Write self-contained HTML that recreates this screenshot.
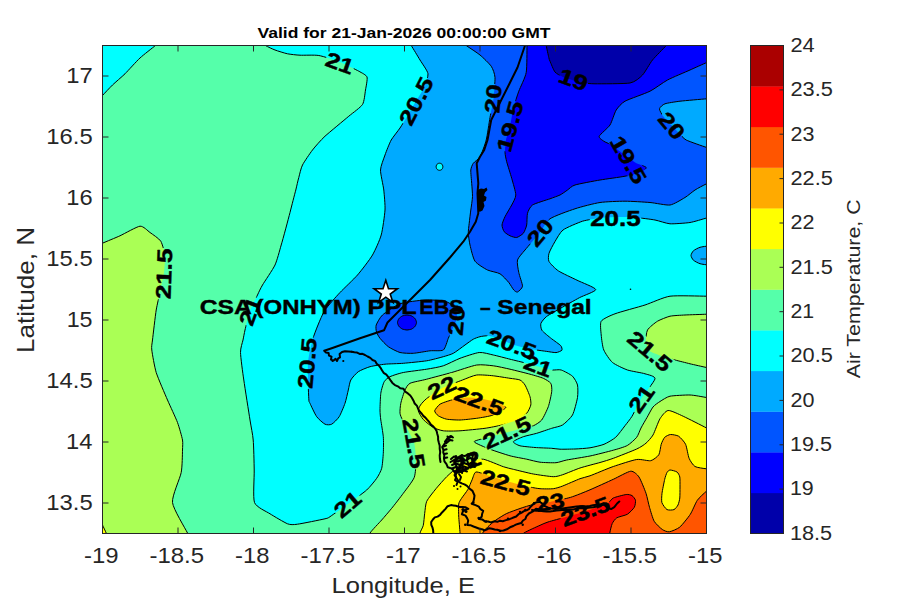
<!DOCTYPE html>
<html><head><meta charset="utf-8"><title>Air Temperature</title>
<style>html,body{margin:0;padding:0;background:#fff;}svg{display:block;}text{font-family:"Liberation Sans",sans-serif;}</style></head>
<body>
<svg width="900" height="600" viewBox="0 0 900 600">
<rect width="900" height="600" fill="#fff"/>
<defs><clipPath id="pc"><rect x="102.5" y="45.5" width="604.0" height="488.0"/></clipPath>
<mask id="lm" maskUnits="userSpaceOnUse" x="0" y="0" width="900" height="600"><rect width="900" height="600" fill="#fff"/>
<rect x="-14.8" y="-9.0" width="29.6" height="18" fill="#000" transform="translate(340,63) rotate(20)"/>
<rect x="-25.8" y="-9.0" width="51.6" height="18" fill="#000" transform="translate(416,101) rotate(-63)"/>
<rect x="-14.8" y="-9.0" width="29.6" height="18" fill="#000" transform="translate(493,98.75) rotate(-85)"/>
<rect x="-25.8" y="-9.0" width="51.6" height="18" fill="#000" transform="translate(510,126) rotate(-75)"/>
<rect x="-14.8" y="-9.0" width="29.6" height="18" fill="#000" transform="translate(573.75,79.5) rotate(20)"/>
<rect x="-14.8" y="-9.0" width="29.6" height="18" fill="#000" transform="translate(671.75,125.5) rotate(50)"/>
<rect x="-25.8" y="-9.0" width="51.6" height="18" fill="#000" transform="translate(628.75,160) rotate(60)"/>
<rect x="-25.8" y="-9.0" width="51.6" height="18" fill="#000" transform="translate(615.5,218) rotate(0)"/>
<rect x="-14.8" y="-9.0" width="29.6" height="18" fill="#000" transform="translate(540,232.5) rotate(-50)"/>
<rect x="-25.8" y="-9.0" width="51.6" height="18" fill="#000" transform="translate(163.75,273.75) rotate(-88)"/>
<rect x="-14.8" y="-9.0" width="29.6" height="18" fill="#000" transform="translate(250,311) rotate(-70)"/>
<rect x="-14.8" y="-9.0" width="29.6" height="18" fill="#000" transform="translate(456.25,321.25) rotate(-85)"/>
<rect x="-25.8" y="-9.0" width="51.6" height="18" fill="#000" transform="translate(307,363) rotate(-85)"/>
<rect x="-25.8" y="-9.0" width="51.6" height="18" fill="#000" transform="translate(511.7,344.2) rotate(20)"/>
<rect x="-14.8" y="-9.0" width="29.6" height="18" fill="#000" transform="translate(538.3,365.8) rotate(20)"/>
<rect x="-14.8" y="-9.0" width="29.6" height="18" fill="#000" transform="translate(441.7,387.5) rotate(-25)"/>
<rect x="-25.8" y="-9.0" width="51.6" height="18" fill="#000" transform="translate(479.2,400.8) rotate(20)"/>
<rect x="-25.8" y="-9.0" width="51.6" height="18" fill="#000" transform="translate(650,351.25) rotate(40)"/>
<rect x="-14.8" y="-9.0" width="29.6" height="18" fill="#000" transform="translate(641.25,398.75) rotate(-55)"/>
<rect x="-25.8" y="-9.0" width="51.6" height="18" fill="#000" transform="translate(414.2,443.3) rotate(80)"/>
<rect x="-25.8" y="-9.0" width="51.6" height="18" fill="#000" transform="translate(506.7,432.5) rotate(-25)"/>
<rect x="-14.8" y="-9.0" width="29.6" height="18" fill="#000" transform="translate(466.7,461.7) rotate(-20)"/>
<rect x="-25.8" y="-9.0" width="51.6" height="18" fill="#000" transform="translate(505.8,482.5) rotate(15)"/>
<rect x="-14.8" y="-9.0" width="29.6" height="18" fill="#000" transform="translate(347.5,504.2) rotate(-40)"/>
<rect x="-14.8" y="-9.0" width="29.6" height="18" fill="#000" transform="translate(550,502) rotate(-10)"/>
<rect x="-25.8" y="-9.0" width="51.6" height="18" fill="#000" transform="translate(585.3,511.3) rotate(-20)"/>
</mask></defs>
<g clip-path="url(#pc)">
<rect x="102.5" y="45.5" width="604.0" height="488.0" fill="#55ffaa"/>
<path d="M94.0,106.0 C94.9,104.9 100.5,97.7 102.5,95.5 C104.5,93.3 110.1,87.3 112.5,85.0 C114.9,82.7 122.1,76.6 125.0,73.8 C127.9,70.9 136.7,61.0 140.0,58.0 C143.3,55.0 152.7,47.7 155.5,45.5 C158.3,43.3 164.9,37.9 166.0,37.0 L166.0,30.0 L90.0,30.0Z" fill="#00ffff"/>
<path d="M255.0,38.0 C256.1,38.8 263.4,44.2 265.5,45.5 C267.6,46.8 272.7,49.1 275.0,50.0 C277.3,50.9 284.8,53.2 287.5,53.8 C290.2,54.3 296.7,55.1 300.0,55.2 C303.3,55.4 314.5,54.8 318.8,55.5 C323.0,56.2 335.7,60.3 340.0,62.0 C344.3,63.7 355.9,69.7 358.8,71.2 C361.6,72.8 366.3,75.0 367.0,77.0 C367.7,79.0 366.0,87.1 365.5,90.0 C365.0,92.9 364.3,101.7 362.5,104.5 C360.7,107.3 352.8,112.9 348.8,116.2 C344.8,119.6 328.9,132.7 325.0,136.2 C321.1,139.8 314.9,146.9 312.5,150.0 C310.1,153.1 304.0,162.1 302.5,165.0 C301.0,167.9 299.5,174.8 298.8,177.5 C298.0,180.2 296.7,186.3 295.8,190.0 C294.8,193.7 291.5,206.6 290.0,212.5 C288.5,218.4 282.9,239.4 281.2,245.0 C279.6,250.6 277.0,260.7 275.0,265.0 C273.0,269.3 264.4,281.8 262.5,285.0 C260.6,288.2 258.8,292.2 257.5,295.0 C256.2,297.8 251.3,307.3 250.0,311.0 C248.7,314.7 245.7,326.9 245.0,330.0 C244.3,333.1 243.5,337.6 243.0,340.0 C242.5,342.4 240.4,348.2 240.5,352.5 C240.6,356.8 242.7,372.8 243.8,380.0 C244.8,387.2 249.0,413.6 250.0,420.0 C251.0,426.4 252.8,434.7 253.2,440.0 C253.7,445.3 254.1,463.3 254.2,470.0 C254.4,476.7 252.8,497.8 254.5,502.5 C256.2,507.2 266.5,511.5 270.0,513.8 C273.5,516.0 284.6,522.6 287.5,523.8 C290.4,524.9 293.5,524.8 297.5,524.2 C301.5,523.7 321.5,519.6 325.0,518.8 C328.5,517.9 327.6,518.3 330.0,516.7 C332.4,515.1 343.6,507.0 347.5,504.2 C351.4,501.4 363.6,492.8 366.7,490.0 C369.8,487.2 375.1,480.6 376.7,478.3 C378.3,476.0 381.0,471.0 381.7,468.3 C382.4,465.6 383.1,456.7 383.3,453.3 C383.5,449.9 383.6,440.3 383.3,436.7 C383.0,433.1 381.2,422.8 380.8,420.0 C380.4,417.2 380.0,412.8 380.0,410.0 C380.0,407.2 380.4,396.3 380.8,393.3 C381.2,390.3 383.2,383.5 384.2,381.7 C385.2,379.9 388.0,377.7 390.0,376.7 C392.0,375.7 399.4,373.3 403.3,372.5 C407.2,371.7 422.4,369.9 426.7,369.2 C431.0,368.5 439.7,367.0 443.3,365.8 C446.9,364.6 456.2,359.7 460.0,358.3 C463.8,356.9 475.6,352.9 479.2,352.5 C482.8,352.1 490.0,354.3 493.3,355.0 C496.6,355.7 506.4,358.3 510.0,359.2 C513.6,360.1 523.5,362.5 526.7,363.3 C529.9,364.1 537.3,366.3 540.0,367.0 C542.7,367.7 549.7,369.7 552.0,370.0 C554.3,370.3 559.1,369.3 561.2,370.0 C563.4,370.7 570.8,374.6 572.5,376.2 C574.2,377.9 577.0,382.7 577.5,385.0 C578.0,387.3 578.0,394.3 577.5,397.5 C577.0,400.7 574.1,412.1 572.5,415.0 C570.9,417.9 564.7,423.6 562.5,425.0 C560.3,426.4 554.5,427.4 551.7,428.3 C548.9,429.2 539.7,432.4 536.7,433.3 C533.7,434.2 525.8,435.8 523.3,436.7 C520.8,437.6 513.7,440.7 513.3,441.7 C512.9,442.7 517.7,445.2 520.0,445.8 C522.3,446.4 531.6,447.2 535.0,447.5 C538.4,447.8 549.0,448.1 551.7,448.3 C554.4,448.5 557.5,449.1 560.0,449.2 C562.5,449.3 571.8,449.1 575.0,449.0 C578.2,448.9 586.9,448.3 590.0,447.8 C593.1,447.3 601.3,445.4 604.0,444.3 C606.7,443.2 613.5,439.3 615.7,437.3 C617.9,435.3 623.3,427.9 625.0,425.7 C626.7,423.5 630.3,419.1 632.0,416.3 C633.7,413.5 638.5,403.0 641.0,399.0 C643.5,395.0 654.6,381.4 655.0,378.8 C655.4,376.1 647.9,374.7 645.0,373.8 C642.1,372.8 631.0,371.2 627.5,370.0 C624.0,368.8 615.0,364.6 612.5,362.5 C610.0,360.4 605.0,352.9 603.8,350.0 C602.5,347.1 601.5,338.1 601.2,335.0 C601.0,331.9 599.8,323.5 601.2,321.2 C602.7,319.0 610.3,315.5 615.0,313.8 C619.7,312.0 639.1,306.9 645.0,305.0 C650.9,303.1 663.4,297.2 670.0,296.2 C676.6,295.3 701.2,296.2 706.5,296.2 C711.8,296.2 718.6,296.2 720.0,296.2 L720.0,30.0 L255.0,30.0Z" fill="#00ffff"/>
<path d="M405.0,36.0 C405.7,37.0 409.6,42.9 411.2,45.5 C412.9,48.1 418.2,57.0 420.0,60.0 C421.8,63.0 427.6,70.8 428.0,73.8 C428.4,76.7 425.3,85.1 424.0,88.0 C422.7,90.9 417.7,98.1 416.0,101.0 C414.3,103.9 409.7,112.1 408.0,115.0 C406.3,117.9 401.8,125.3 400.0,128.0 C398.2,130.7 392.9,137.1 391.2,140.0 C389.6,142.9 386.1,151.8 385.0,155.0 C383.9,158.2 380.6,166.3 380.5,170.0 C380.4,173.7 383.3,185.7 383.8,190.0 C384.2,194.3 385.3,205.2 385.0,210.0 C384.7,214.8 382.6,230.2 381.2,235.0 C379.9,239.8 375.0,250.7 372.5,255.0 C370.0,259.3 361.0,271.0 357.5,275.0 C354.0,279.0 343.5,288.8 340.0,292.5 C336.5,296.2 327.3,306.5 325.0,310.0 C322.7,313.5 319.3,321.8 318.0,325.0 C316.7,328.2 313.6,335.9 312.5,340.0 C311.4,344.1 308.4,356.7 308.0,363.0 C307.6,369.3 308.5,394.5 308.8,398.8 C309.0,403.0 309.2,401.4 310.0,403.3 C310.8,405.2 315.1,414.5 316.7,416.7 C318.3,418.9 323.4,423.4 325.0,424.2 C326.6,425.0 330.2,425.0 331.7,424.2 C333.2,423.4 337.8,418.9 339.2,416.7 C340.6,414.5 344.0,406.1 345.0,403.3 C346.0,400.5 347.7,392.5 348.3,390.0 C348.9,387.5 349.7,382.0 350.8,380.0 C351.9,378.0 356.3,373.1 358.3,371.7 C360.3,370.3 367.2,367.5 370.0,366.7 C372.8,365.9 381.4,364.6 385.0,364.2 C388.6,363.8 398.9,363.7 403.3,363.3 C407.7,362.9 422.4,361.5 426.7,360.8 C431.0,360.1 440.5,357.5 443.3,356.7 C446.1,355.9 451.0,354.5 453.3,353.3 C455.6,352.1 462.9,346.5 465.0,345.0 C467.1,343.5 471.7,340.1 473.3,339.2 C474.9,338.3 478.4,337.1 480.0,336.7 C481.6,336.3 486.2,335.6 488.3,335.8 C490.4,336.0 497.5,338.1 500.0,339.0 C502.5,339.9 509.1,343.3 511.7,344.2 C514.3,345.1 521.3,346.9 524.0,347.5 C526.7,348.1 534.3,349.6 536.7,350.0 C539.1,350.4 544.6,351.1 546.7,351.4 C548.8,351.7 554.4,352.7 556.0,352.6 C557.6,352.5 561.4,350.9 561.9,350.2 C562.4,349.5 561.8,346.8 560.7,345.6 C559.6,344.4 553.4,340.2 551.4,338.6 C549.4,337.0 543.1,332.0 542.0,330.4 C540.9,328.8 540.4,324.9 540.9,323.4 C541.4,321.9 544.6,318.0 546.7,316.4 C548.8,314.8 557.2,310.2 560.7,308.2 C564.2,306.2 575.7,299.7 579.4,297.7 C583.1,295.7 596.0,291.4 595.7,289.5 C595.4,287.6 581.0,282.2 577.0,280.2 C573.0,278.2 561.4,272.9 558.4,270.9 C555.4,268.9 550.0,263.4 549.0,261.5 C548.0,259.6 548.4,255.4 549.0,253.3 C549.6,251.2 553.4,244.2 554.9,241.7 C556.4,239.2 560.1,232.2 563.0,230.0 C565.9,227.8 578.6,222.5 582.5,221.2 C586.4,220.0 596.5,218.5 600.0,218.0 C603.5,217.5 611.8,217.1 615.5,217.0 C619.2,216.9 630.8,217.2 635.0,217.5 C639.2,217.8 651.3,219.3 655.0,220.0 C658.7,220.7 666.3,223.5 670.0,223.8 C673.7,224.0 686.1,223.1 690.0,222.5 C693.9,221.9 703.3,218.9 706.5,218.0 C709.7,217.1 718.6,214.4 720.0,214.0 L720.0,30.0 L405.0,30.0Z" fill="#00aaff"/>
<path d="M442.9,166.8 C442.9,167.1 442.6,168.2 442.4,168.6 C442.3,168.9 441.5,169.7 441.2,169.9 C440.9,170.1 439.9,170.3 439.5,170.3 C439.1,170.3 438.1,170.1 437.8,169.9 C437.5,169.7 436.7,168.9 436.6,168.6 C436.4,168.2 436.1,167.1 436.1,166.8 C436.1,166.4 436.4,165.3 436.6,164.9 C436.7,164.6 437.5,163.8 437.8,163.6 C438.1,163.4 439.1,163.2 439.5,163.2 C439.9,163.2 440.9,163.4 441.2,163.6 C441.5,163.8 442.3,164.6 442.4,164.9 C442.6,165.3 442.9,166.4 442.9,166.8Z" fill="#00ffff"/>
<path d="M727.0,255.5 C727.0,256.5 725.5,259.4 724.6,260.2 C723.6,261.1 719.7,263.2 718.0,263.7 C716.3,264.2 710.9,265.0 709.0,265.0 C707.1,265.0 701.7,264.2 700.0,263.7 C698.3,263.2 694.4,261.1 693.4,260.2 C692.5,259.4 691.0,256.5 691.0,255.5 C691.0,254.5 692.5,251.6 693.4,250.8 C694.4,249.9 698.3,247.8 700.0,247.3 C701.7,246.8 707.1,246.0 709.0,246.0 C710.9,246.0 716.3,246.8 718.0,247.3 C719.7,247.8 723.6,249.9 724.6,250.8 C725.5,251.6 727.0,254.5 727.0,255.5Z" fill="#00aaff"/>
<path d="M455.0,37.0 C456.2,37.9 463.6,43.6 466.2,45.5 C468.9,47.4 477.3,52.8 480.0,55.0 C482.7,57.2 489.6,63.9 491.2,66.2 C492.9,68.7 494.8,74.0 495.0,77.5 C495.2,81.0 494.0,94.5 493.5,98.8 C493.0,103.0 490.8,113.1 490.0,117.5 C489.2,121.9 487.3,135.8 486.2,140.0 C485.2,144.2 481.4,154.2 480.0,156.7 C478.6,159.2 474.3,161.9 473.3,163.3 C472.3,164.7 471.0,167.9 470.8,170.0 C470.6,172.1 471.5,180.5 471.7,183.3 C471.9,186.1 472.6,193.9 472.5,196.7 C472.4,199.5 471.2,207.2 470.8,210.0 C470.4,212.8 469.5,220.8 469.2,223.3 C468.9,225.8 468.2,231.0 468.3,233.3 C468.4,235.6 469.3,242.0 470.0,245.0 C470.7,248.0 473.1,258.6 475.0,261.2 C476.9,263.9 484.8,268.7 487.5,270.0 C490.2,271.3 497.7,272.4 500.0,273.8 C502.3,275.1 507.3,280.8 508.8,282.5 C510.2,284.2 512.8,289.0 513.8,290.0 C514.7,291.0 516.6,292.4 517.5,292.0 C518.4,291.6 522.4,288.3 522.5,286.2 C522.6,284.2 519.3,275.3 518.8,272.5 C518.2,269.7 516.8,262.4 517.5,260.0 C518.2,257.6 522.6,252.9 525.0,250.0 C527.4,247.1 537.3,235.8 540.0,232.5 C542.7,229.2 546.3,221.3 550.0,218.8 C553.7,216.2 569.7,210.5 575.0,208.8 C580.3,207.0 594.7,203.3 600.0,202.5 C605.3,201.7 619.7,201.2 625.0,201.2 C630.3,201.2 645.2,202.1 650.0,202.5 C654.8,202.9 666.3,205.5 670.0,205.0 C673.7,204.5 682.3,199.1 685.0,197.5 C687.7,195.9 692.7,191.5 695.0,190.0 C697.3,188.5 703.8,185.1 706.5,183.8 C709.2,182.4 718.6,177.7 720.0,177.0 L720.0,30.0 L455.0,30.0Z" fill="#0055ff"/>
<path d="M720.0,98.0 C718.6,98.1 711.0,98.4 706.8,98.8 C702.5,99.1 684.5,100.7 680.0,101.2 C675.5,101.8 667.2,103.0 665.0,103.8 C662.8,104.5 659.7,107.4 659.5,108.8 C659.3,110.1 661.7,114.2 663.0,116.0 C664.3,117.8 670.0,123.7 671.8,125.5 C673.5,127.3 677.5,131.5 679.0,133.0 C680.5,134.5 683.3,138.5 686.2,140.0 C689.2,141.5 703.1,146.3 706.8,147.5 C710.4,148.7 718.6,150.6 720.0,151.0Z" fill="#00aaff"/>
<path d="M376.2,325.0 C376.9,323.2 380.0,317.3 382.5,315.0 C385.0,312.7 395.5,305.4 400.0,303.8 C404.5,302.1 420.2,300.3 425.0,300.0 C429.8,299.7 441.8,300.4 445.0,301.2 C448.2,302.1 453.7,305.7 455.0,307.5 C456.3,309.3 457.3,315.6 457.0,318.0 C456.7,320.4 452.9,327.8 452.0,330.0 C451.1,332.2 449.2,336.2 448.3,338.3 C447.4,340.4 445.3,348.7 443.3,350.0 C441.3,351.3 433.2,350.4 430.0,350.8 C426.8,351.2 416.5,353.1 413.3,353.3 C410.1,353.5 402.7,353.2 400.0,352.5 C397.3,351.8 390.4,348.2 388.3,346.7 C386.2,345.2 381.3,339.9 380.0,338.3 C378.7,336.7 376.9,333.4 376.5,332.0 C376.1,330.6 375.6,326.8 376.2,325.0Z" fill="#0055ff"/>
<path d="M416.5,322.5 C416.5,323.3 415.7,325.6 415.2,326.2 C414.7,326.9 412.6,328.6 411.8,329.0 C410.9,329.4 408.0,330.0 407.0,330.0 C406.0,330.0 403.1,329.4 402.2,329.0 C401.4,328.6 399.3,326.9 398.8,326.2 C398.3,325.6 397.5,323.3 397.5,322.5 C397.5,321.7 398.3,319.4 398.8,318.8 C399.3,318.1 401.4,316.4 402.2,316.0 C403.1,315.6 406.0,315.0 407.0,315.0 C408.0,315.0 410.9,315.6 411.8,316.0 C412.6,316.4 414.7,318.1 415.2,318.8 C415.7,319.4 416.5,321.7 416.5,322.5Z" fill="#0000ff"/>
<path d="M527.0,37.0 C527.0,37.9 527.1,41.7 527.0,45.5 C526.9,49.3 527.1,67.6 526.2,72.5 C525.4,77.4 520.1,87.5 518.8,91.2 C517.4,95.0 514.4,104.3 513.5,108.0 C512.6,111.7 510.8,122.8 510.0,126.2 C509.2,129.7 506.5,137.2 506.0,140.0 C505.5,142.8 504.9,150.2 505.0,152.5 C505.1,154.8 506.0,158.9 506.7,161.7 C507.4,164.5 510.7,174.7 511.7,178.3 C512.7,181.9 515.8,192.2 515.8,195.0 C515.8,197.8 512.9,202.7 511.7,205.0 C510.5,207.3 506.0,214.6 505.0,216.7 C504.0,218.8 502.1,223.4 502.0,225.0 C501.9,226.6 503.3,230.5 504.2,231.7 C505.1,232.9 508.7,235.2 510.0,235.8 C511.3,236.4 515.3,237.8 516.7,237.5 C518.1,237.2 522.2,234.6 523.3,233.3 C524.4,232.0 526.3,227.1 526.7,225.0 C527.1,222.9 526.9,215.4 527.5,213.3 C528.1,211.2 530.1,206.6 532.5,205.0 C534.9,203.4 547.1,199.8 550.0,198.8 C552.9,197.7 558.1,195.9 560.0,195.0 C561.9,194.1 565.9,191.1 567.5,190.0 C569.1,188.9 571.5,186.1 575.0,185.0 C578.5,183.9 594.7,180.9 600.0,180.0 C605.3,179.1 620.7,177.1 625.0,176.2 C629.3,175.4 637.7,173.4 640.0,172.5 C642.3,171.6 646.7,168.5 646.2,167.5 C645.8,166.5 637.9,164.0 636.0,163.0 C634.1,162.0 631.4,159.9 628.8,158.0 C626.1,156.1 613.9,146.8 611.2,145.0 C608.6,143.2 605.0,142.2 603.8,141.2 C602.5,140.3 598.6,138.0 599.2,136.2 C599.9,134.5 608.2,127.8 610.0,125.0 C611.8,122.2 614.6,112.5 616.2,110.0 C617.9,107.5 621.4,103.2 625.0,101.2 C628.6,99.2 645.5,93.5 650.0,91.2 C654.5,89.0 663.2,82.3 667.5,80.0 C671.8,77.7 685.8,71.9 690.0,70.0 C694.2,68.1 703.5,63.9 706.8,62.5 C710.0,61.1 718.6,57.6 720.0,57.0 L720.0,30.0 L527.0,30.0Z" fill="#0000ff"/>
<path d="M545.0,37.0 C545.1,37.9 545.9,43.3 546.2,45.5 C546.6,47.7 548.4,55.8 548.8,57.5 C549.1,59.2 549.3,59.7 550.0,61.2 C550.7,62.8 553.6,70.3 555.0,72.0 C556.4,73.7 561.0,76.1 563.0,77.0 C565.0,77.9 571.4,79.9 573.8,80.5 C576.1,81.1 582.7,82.7 585.0,83.0 C587.3,83.3 590.2,83.8 595.0,83.8 C599.8,83.8 624.9,83.9 630.0,83.0 C635.1,82.1 640.1,77.5 642.5,75.0 C644.9,72.5 650.0,63.1 652.5,60.0 C655.0,56.9 664.1,48.0 666.2,45.5 C668.4,43.0 672.3,37.9 673.0,37.0 L673.0,30.0 L545.0,30.0Z" fill="#0000aa"/>
<path d="M90.0,249.0 C91.3,248.4 99.3,244.7 102.5,243.2 C105.7,241.8 116.0,237.6 120.0,235.8 C124.0,233.9 136.8,226.6 140.0,226.2 C143.2,225.9 147.8,230.9 150.0,232.5 C152.2,234.1 159.2,238.7 160.8,241.2 C162.3,243.8 164.7,252.5 165.0,256.0 C165.3,259.5 164.3,269.9 163.8,273.8 C163.2,277.6 160.8,288.1 160.0,292.0 C159.2,295.9 157.1,304.9 156.2,310.0 C155.4,315.1 153.0,335.7 152.5,340.0 C152.0,344.3 151.3,346.5 151.8,350.0 C152.2,353.5 154.6,367.2 156.2,372.5 C157.9,377.8 165.2,394.7 167.5,400.0 C169.8,405.3 175.9,418.2 177.5,422.5 C179.1,426.8 182.0,437.1 182.5,440.0 C183.0,442.9 182.6,446.5 182.5,450.0 C182.4,453.5 182.3,466.9 181.2,472.5 C180.2,478.1 171.8,496.0 172.5,502.5 C173.2,509.0 185.3,528.5 187.5,533.0 C189.7,537.5 192.4,543.7 193.0,545.0 L90.0,545.0Z" fill="#aaff55"/>
<path d="M720.0,313.5 C718.6,313.6 710.2,314.1 706.5,314.2 C702.8,314.4 688.9,314.8 685.0,315.0 C681.1,315.2 672.9,315.6 670.0,316.2 C667.1,316.9 659.9,319.8 657.5,321.2 C655.1,322.7 648.7,327.8 647.5,330.0 C646.3,332.2 645.7,339.7 646.0,342.0 C646.3,344.3 648.3,349.8 650.0,351.2 C651.7,352.7 659.3,355.1 662.0,356.0 C664.7,356.9 672.0,359.2 675.0,360.0 C678.0,360.8 686.6,362.9 690.0,363.8 C693.4,364.6 703.3,366.8 706.5,367.5 C709.7,368.2 718.6,369.7 720.0,370.0Z" fill="#aaff55"/>
<path d="M364.0,545.0 C364.6,543.7 368.1,535.7 370.0,533.0 C371.9,530.3 379.4,522.6 381.7,520.0 C384.0,517.4 389.4,511.1 391.7,508.3 C394.0,505.5 400.9,496.6 403.3,493.3 C405.7,490.0 412.8,481.1 414.2,477.5 C415.6,473.9 416.0,463.6 416.0,460.0 C416.0,456.4 415.1,446.5 414.2,443.3 C413.3,440.1 409.2,432.5 408.0,430.0 C406.8,427.5 403.4,421.8 402.5,420.0 C401.6,418.2 400.2,415.1 400.0,413.3 C399.8,411.5 400.3,405.8 400.8,403.3 C401.3,400.8 404.0,392.1 405.0,390.0 C406.0,387.9 407.7,384.5 410.0,383.3 C412.3,382.1 422.3,380.4 426.7,379.2 C431.1,378.0 446.4,374.0 451.7,372.5 C457.0,371.0 472.3,365.7 476.7,365.0 C481.1,364.3 489.7,365.4 493.3,365.8 C496.9,366.2 506.1,368.3 510.0,369.2 C513.9,370.1 526.4,373.2 530.0,374.2 C533.6,375.2 541.1,377.3 543.3,378.3 C545.5,379.3 549.9,381.9 550.8,383.3 C551.7,384.7 552.0,389.2 551.7,391.7 C551.4,394.2 549.4,403.7 548.3,406.7 C547.2,409.7 543.3,418.0 541.7,420.0 C540.1,422.0 535.6,424.8 533.3,425.8 C531.0,426.8 522.8,428.3 520.0,429.0 C517.2,429.7 509.9,431.6 506.7,432.5 C503.5,433.4 493.5,436.0 490.0,437.0 C486.5,438.0 474.2,440.4 474.2,441.7 C474.2,443.0 486.2,447.7 490.0,449.2 C493.8,450.7 506.1,454.7 510.0,455.8 C513.9,456.9 523.5,458.5 526.7,459.2 C529.9,459.9 536.9,461.8 540.0,462.2 C543.1,462.6 553.2,462.9 556.0,462.7 C558.8,462.5 563.1,460.7 566.7,460.0 C570.3,459.3 585.0,457.0 590.0,456.0 C595.0,455.0 609.3,451.3 613.3,450.2 C617.3,449.1 624.8,446.9 627.3,445.5 C629.8,444.1 635.2,439.2 636.7,437.3 C638.2,435.4 639.9,430.1 641.0,428.0 C642.1,425.9 645.7,419.7 647.0,417.5 C648.3,415.3 651.6,408.7 653.0,407.0 C654.4,405.3 658.2,402.6 660.0,401.5 C661.8,400.4 666.8,396.9 670.0,396.2 C673.2,395.6 686.1,394.9 690.0,395.0 C693.9,395.1 703.3,397.0 706.5,397.5 C709.7,398.0 718.6,399.7 720.0,400.0 L720.0,545.0Z" fill="#aaff55"/>
<path d="M426.7,398.5 C429.0,396.7 437.9,390.5 441.7,388.5 C445.5,386.5 458.8,381.4 462.5,380.0 C466.2,378.6 473.4,375.4 476.7,375.0 C480.0,374.6 489.7,375.4 493.3,375.8 C496.9,376.2 507.2,377.9 510.0,378.3 C512.8,378.7 518.4,379.3 520.0,380.0 C521.6,380.7 523.9,383.2 525.0,385.0 C526.1,386.8 529.4,394.6 530.0,396.7 C530.6,398.8 531.2,403.2 530.8,405.0 C530.4,406.8 528.2,411.7 526.7,413.3 C525.2,414.9 519.4,418.8 516.7,420.0 C514.0,421.2 505.1,424.1 501.7,425.0 C498.3,425.9 489.4,427.7 485.0,428.3 C480.6,428.9 464.4,430.5 460.0,430.8 C455.6,431.1 446.1,431.2 443.3,430.8 C440.5,430.4 435.4,428.7 433.3,427.5 C431.2,426.3 424.9,421.3 423.3,419.5 C421.7,417.7 418.6,412.5 418.3,411.0 C418.0,409.5 419.6,406.3 420.5,405.0 C421.4,403.7 424.4,400.3 426.7,398.5Z" fill="#ffff00"/>
<path d="M418.0,545.0 C418.2,543.7 419.4,535.1 420.0,533.0 C420.6,530.9 422.8,527.4 423.3,525.3 C423.8,523.2 424.3,515.9 424.7,513.3 C425.1,510.7 425.5,503.9 426.7,501.3 C427.9,498.7 433.9,491.3 436.0,488.7 C438.1,486.1 444.4,479.0 446.7,476.7 C449.0,474.4 455.5,468.6 458.0,467.0 C460.5,465.4 467.3,462.3 470.0,461.5 C472.7,460.7 479.7,458.6 483.3,459.2 C486.9,459.8 500.1,465.6 503.3,466.7 C506.5,467.8 510.1,468.5 513.3,469.3 C516.5,470.1 529.0,473.2 533.3,474.0 C537.6,474.8 550.2,476.6 553.3,476.7 C556.4,476.8 559.9,475.6 562.7,474.7 C565.5,473.8 576.0,469.3 580.0,468.0 C584.0,466.7 596.4,463.5 600.0,462.5 C603.6,461.5 609.4,459.7 613.3,458.3 C617.2,456.9 633.2,450.6 636.7,449.0 C640.2,447.4 644.3,444.7 646.0,443.2 C647.7,441.7 651.5,437.6 653.0,435.0 C654.5,432.4 658.4,421.3 660.0,418.7 C661.6,416.1 665.6,410.8 668.1,410.5 C670.6,410.2 679.2,414.4 683.3,416.3 C687.4,418.2 702.7,426.0 706.6,428.0 C710.5,430.0 718.6,434.3 720.0,435.0 L720.0,545.0Z" fill="#ffff00"/>
<path d="M98.5,516.0 C98.9,517.0 101.7,523.2 102.5,525.0 C103.3,526.8 105.5,531.3 106.2,533.0 C107.0,534.7 109.6,540.1 110.0,541.0 L95.0,541.0Z" fill="#ffff00"/>
<path d="M434.7,410.8 C434.9,409.6 438.2,405.4 440.0,404.2 C441.8,403.0 448.9,400.7 451.7,400.0 C454.5,399.3 463.0,397.7 466.0,397.5 C469.0,397.3 476.9,398.0 480.0,398.5 C483.1,399.0 492.2,401.0 495.0,402.0 C497.8,403.0 506.0,406.1 505.8,407.5 C505.6,408.9 496.4,413.8 493.3,415.0 C490.2,416.2 480.3,417.8 476.7,418.3 C473.1,418.8 463.2,419.9 460.0,420.0 C456.8,420.1 449.0,419.6 446.7,419.2 C444.4,418.8 439.6,416.7 438.3,415.8 C437.0,414.9 434.5,412.0 434.7,410.8Z" fill="#ffaa00"/>
<path d="M460.0,545.0 C460.0,543.7 460.1,536.1 460.0,533.0 C459.9,529.9 458.8,519.1 458.7,516.0 C458.6,512.9 458.4,505.8 458.7,504.0 C459.0,502.2 460.3,500.3 461.3,498.7 C462.3,497.1 466.9,491.3 468.0,489.3 C469.1,487.3 471.1,481.8 472.0,480.0 C472.9,478.2 474.1,472.4 476.0,472.0 C477.9,471.6 486.4,474.9 490.0,476.0 C493.6,477.1 505.7,480.8 510.0,482.0 C514.3,483.2 526.8,486.3 530.0,487.0 C533.2,487.7 537.5,488.5 540.0,488.7 C542.5,488.9 550.9,489.0 553.3,488.7 C555.7,488.4 559.9,487.1 562.7,486.0 C565.5,484.9 577.1,479.8 580.0,478.7 C582.9,477.6 586.4,477.1 590.0,475.8 C593.6,474.5 608.3,468.2 613.3,466.5 C618.3,464.8 632.7,460.1 636.7,459.5 C640.7,458.9 648.3,461.2 650.7,460.7 C653.1,460.2 657.7,456.5 658.8,454.8 C659.9,453.1 660.6,446.2 661.2,444.3 C661.8,442.4 663.7,438.3 664.7,437.3 C665.7,436.3 669.0,434.6 670.5,434.5 C672.0,434.4 677.0,435.2 678.6,436.2 C680.2,437.2 684.5,441.9 685.6,444.3 C686.7,446.7 688.1,455.9 689.1,458.3 C690.1,460.7 693.1,465.4 695.0,466.5 C696.9,467.6 703.9,468.5 706.6,468.8 C709.3,469.1 718.6,469.0 720.0,469.0 L720.0,545.0Z" fill="#ffaa00"/>
<path d="M670.0,470.0 C671.1,469.9 676.0,471.3 677.0,472.0 C678.0,472.7 679.5,475.4 679.8,477.0 C680.1,478.6 680.0,484.8 680.0,487.0 C680.0,489.2 680.0,496.1 679.8,498.0 C679.6,499.9 678.6,503.8 678.0,505.0 C677.4,506.2 675.2,509.1 674.0,509.6 C672.8,510.1 668.3,510.3 667.0,509.6 C665.7,508.9 662.4,504.3 661.9,502.6 C661.4,500.9 661.7,495.8 662.0,493.3 C662.3,490.8 664.2,481.5 664.7,479.3 C665.2,477.1 666.4,473.5 667.0,472.5 C667.6,471.5 668.9,470.1 670.0,470.0Z" fill="#ffff00"/>
<path d="M480.0,545.0 C480.3,543.7 481.8,535.0 482.7,533.0 C483.6,531.0 486.6,528.1 488.0,526.7 C489.4,525.3 494.0,521.4 496.0,520.0 C498.0,518.6 504.1,514.7 506.7,513.5 C509.3,512.3 517.2,509.5 520.0,508.5 C522.8,507.5 530.1,505.2 533.3,504.5 C536.5,503.8 546.0,502.8 550.0,502.0 C554.0,501.2 566.4,498.6 570.7,497.3 C575.0,496.0 585.5,491.7 590.0,489.8 C594.5,487.9 608.9,481.3 613.3,479.3 C617.7,477.3 628.1,471.4 630.8,471.2 C633.5,471.0 637.4,474.6 639.0,477.0 C640.6,479.4 644.9,490.1 646.0,493.3 C647.1,496.5 648.6,504.3 649.5,507.3 C650.4,510.3 652.8,518.9 654.2,521.3 C655.6,523.7 660.7,528.4 662.3,529.5 C663.9,530.6 667.4,532.1 669.3,531.8 C671.2,531.5 677.6,529.0 679.8,527.1 C682.0,525.2 688.4,517.2 690.3,514.3 C692.2,511.4 695.6,502.8 697.3,500.3 C699.0,497.8 704.2,493.3 706.6,491.0 C709.0,488.7 718.6,480.3 720.0,479.0 L720.0,545.0Z" fill="#ff5500"/>
<path d="M510.0,545.0 C511.5,543.7 520.8,535.1 524.0,533.0 C527.2,530.9 537.4,526.5 540.0,525.3 C542.6,524.1 545.2,522.9 548.0,522.0 C550.8,521.1 562.0,518.1 566.0,517.0 C570.0,515.9 581.0,512.7 585.3,511.3 C589.6,509.9 603.7,505.4 606.7,504.0 C609.7,502.6 611.2,499.0 613.3,498.0 C615.4,497.0 624.2,494.8 626.2,494.5 C628.2,494.2 631.0,495.0 632.0,495.6 C633.0,496.2 635.3,499.1 635.5,500.3 C635.7,501.5 635.2,505.8 634.3,507.3 C633.4,508.8 629.2,513.2 627.3,514.3 C625.4,515.4 618.4,516.8 616.8,517.8 C615.2,518.8 612.9,522.0 612.2,523.6 C611.5,525.2 610.2,530.7 609.8,533.0 C609.4,535.3 608.2,543.7 608.0,545.0Z" fill="#ff0000"/>
<g mask="url(#lm)" fill="none" stroke="#000" stroke-width="1" stroke-linejoin="round">
<path d="M94.0,106.0 C94.9,104.9 100.5,97.7 102.5,95.5 C104.5,93.3 110.1,87.3 112.5,85.0 C114.9,82.7 122.1,76.6 125.0,73.8 C127.9,70.9 136.7,61.0 140.0,58.0 C143.3,55.0 152.7,47.7 155.5,45.5 C158.3,43.3 164.9,37.9 166.0,37.0"/>
<path d="M255.0,38.0 C256.1,38.8 263.4,44.2 265.5,45.5 C267.6,46.8 272.7,49.1 275.0,50.0 C277.3,50.9 284.8,53.2 287.5,53.8 C290.2,54.3 296.7,55.1 300.0,55.2 C303.3,55.4 314.5,54.8 318.8,55.5 C323.0,56.2 335.7,60.3 340.0,62.0 C344.3,63.7 355.9,69.7 358.8,71.2 C361.6,72.8 366.3,75.0 367.0,77.0 C367.7,79.0 366.0,87.1 365.5,90.0 C365.0,92.9 364.3,101.7 362.5,104.5 C360.7,107.3 352.8,112.9 348.8,116.2 C344.8,119.6 328.9,132.7 325.0,136.2 C321.1,139.8 314.9,146.9 312.5,150.0 C310.1,153.1 304.0,162.1 302.5,165.0 C301.0,167.9 299.5,174.8 298.8,177.5 C298.0,180.2 296.7,186.3 295.8,190.0 C294.8,193.7 291.5,206.6 290.0,212.5 C288.5,218.4 282.9,239.4 281.2,245.0 C279.6,250.6 277.0,260.7 275.0,265.0 C273.0,269.3 264.4,281.8 262.5,285.0 C260.6,288.2 258.8,292.2 257.5,295.0 C256.2,297.8 251.3,307.3 250.0,311.0 C248.7,314.7 245.7,326.9 245.0,330.0 C244.3,333.1 243.5,337.6 243.0,340.0 C242.5,342.4 240.4,348.2 240.5,352.5 C240.6,356.8 242.7,372.8 243.8,380.0 C244.8,387.2 249.0,413.6 250.0,420.0 C251.0,426.4 252.8,434.7 253.2,440.0 C253.7,445.3 254.1,463.3 254.2,470.0 C254.4,476.7 252.8,497.8 254.5,502.5 C256.2,507.2 266.5,511.5 270.0,513.8 C273.5,516.0 284.6,522.6 287.5,523.8 C290.4,524.9 293.5,524.8 297.5,524.2 C301.5,523.7 321.5,519.6 325.0,518.8 C328.5,517.9 327.6,518.3 330.0,516.7 C332.4,515.1 343.6,507.0 347.5,504.2 C351.4,501.4 363.6,492.8 366.7,490.0 C369.8,487.2 375.1,480.6 376.7,478.3 C378.3,476.0 381.0,471.0 381.7,468.3 C382.4,465.6 383.1,456.7 383.3,453.3 C383.5,449.9 383.6,440.3 383.3,436.7 C383.0,433.1 381.2,422.8 380.8,420.0 C380.4,417.2 380.0,412.8 380.0,410.0 C380.0,407.2 380.4,396.3 380.8,393.3 C381.2,390.3 383.2,383.5 384.2,381.7 C385.2,379.9 388.0,377.7 390.0,376.7 C392.0,375.7 399.4,373.3 403.3,372.5 C407.2,371.7 422.4,369.9 426.7,369.2 C431.0,368.5 439.7,367.0 443.3,365.8 C446.9,364.6 456.2,359.7 460.0,358.3 C463.8,356.9 475.6,352.9 479.2,352.5 C482.8,352.1 490.0,354.3 493.3,355.0 C496.6,355.7 506.4,358.3 510.0,359.2 C513.6,360.1 523.5,362.5 526.7,363.3 C529.9,364.1 537.3,366.3 540.0,367.0 C542.7,367.7 549.7,369.7 552.0,370.0 C554.3,370.3 559.1,369.3 561.2,370.0 C563.4,370.7 570.8,374.6 572.5,376.2 C574.2,377.9 577.0,382.7 577.5,385.0 C578.0,387.3 578.0,394.3 577.5,397.5 C577.0,400.7 574.1,412.1 572.5,415.0 C570.9,417.9 564.7,423.6 562.5,425.0 C560.3,426.4 554.5,427.4 551.7,428.3 C548.9,429.2 539.7,432.4 536.7,433.3 C533.7,434.2 525.8,435.8 523.3,436.7 C520.8,437.6 513.7,440.7 513.3,441.7 C512.9,442.7 517.7,445.2 520.0,445.8 C522.3,446.4 531.6,447.2 535.0,447.5 C538.4,447.8 549.0,448.1 551.7,448.3 C554.4,448.5 557.5,449.1 560.0,449.2 C562.5,449.3 571.8,449.1 575.0,449.0 C578.2,448.9 586.9,448.3 590.0,447.8 C593.1,447.3 601.3,445.4 604.0,444.3 C606.7,443.2 613.5,439.3 615.7,437.3 C617.9,435.3 623.3,427.9 625.0,425.7 C626.7,423.5 630.3,419.1 632.0,416.3 C633.7,413.5 638.5,403.0 641.0,399.0 C643.5,395.0 654.6,381.4 655.0,378.8 C655.4,376.1 647.9,374.7 645.0,373.8 C642.1,372.8 631.0,371.2 627.5,370.0 C624.0,368.8 615.0,364.6 612.5,362.5 C610.0,360.4 605.0,352.9 603.8,350.0 C602.5,347.1 601.5,338.1 601.2,335.0 C601.0,331.9 599.8,323.5 601.2,321.2 C602.7,319.0 610.3,315.5 615.0,313.8 C619.7,312.0 639.1,306.9 645.0,305.0 C650.9,303.1 663.4,297.2 670.0,296.2 C676.6,295.3 701.2,296.2 706.5,296.2 C711.8,296.2 718.6,296.2 720.0,296.2"/>
<path d="M405.0,36.0 C405.7,37.0 409.6,42.9 411.2,45.5 C412.9,48.1 418.2,57.0 420.0,60.0 C421.8,63.0 427.6,70.8 428.0,73.8 C428.4,76.7 425.3,85.1 424.0,88.0 C422.7,90.9 417.7,98.1 416.0,101.0 C414.3,103.9 409.7,112.1 408.0,115.0 C406.3,117.9 401.8,125.3 400.0,128.0 C398.2,130.7 392.9,137.1 391.2,140.0 C389.6,142.9 386.1,151.8 385.0,155.0 C383.9,158.2 380.6,166.3 380.5,170.0 C380.4,173.7 383.3,185.7 383.8,190.0 C384.2,194.3 385.3,205.2 385.0,210.0 C384.7,214.8 382.6,230.2 381.2,235.0 C379.9,239.8 375.0,250.7 372.5,255.0 C370.0,259.3 361.0,271.0 357.5,275.0 C354.0,279.0 343.5,288.8 340.0,292.5 C336.5,296.2 327.3,306.5 325.0,310.0 C322.7,313.5 319.3,321.8 318.0,325.0 C316.7,328.2 313.6,335.9 312.5,340.0 C311.4,344.1 308.4,356.7 308.0,363.0 C307.6,369.3 308.5,394.5 308.8,398.8 C309.0,403.0 309.2,401.4 310.0,403.3 C310.8,405.2 315.1,414.5 316.7,416.7 C318.3,418.9 323.4,423.4 325.0,424.2 C326.6,425.0 330.2,425.0 331.7,424.2 C333.2,423.4 337.8,418.9 339.2,416.7 C340.6,414.5 344.0,406.1 345.0,403.3 C346.0,400.5 347.7,392.5 348.3,390.0 C348.9,387.5 349.7,382.0 350.8,380.0 C351.9,378.0 356.3,373.1 358.3,371.7 C360.3,370.3 367.2,367.5 370.0,366.7 C372.8,365.9 381.4,364.6 385.0,364.2 C388.6,363.8 398.9,363.7 403.3,363.3 C407.7,362.9 422.4,361.5 426.7,360.8 C431.0,360.1 440.5,357.5 443.3,356.7 C446.1,355.9 451.0,354.5 453.3,353.3 C455.6,352.1 462.9,346.5 465.0,345.0 C467.1,343.5 471.7,340.1 473.3,339.2 C474.9,338.3 478.4,337.1 480.0,336.7 C481.6,336.3 486.2,335.6 488.3,335.8 C490.4,336.0 497.5,338.1 500.0,339.0 C502.5,339.9 509.1,343.3 511.7,344.2 C514.3,345.1 521.3,346.9 524.0,347.5 C526.7,348.1 534.3,349.6 536.7,350.0 C539.1,350.4 544.6,351.1 546.7,351.4 C548.8,351.7 554.4,352.7 556.0,352.6 C557.6,352.5 561.4,350.9 561.9,350.2 C562.4,349.5 561.8,346.8 560.7,345.6 C559.6,344.4 553.4,340.2 551.4,338.6 C549.4,337.0 543.1,332.0 542.0,330.4 C540.9,328.8 540.4,324.9 540.9,323.4 C541.4,321.9 544.6,318.0 546.7,316.4 C548.8,314.8 557.2,310.2 560.7,308.2 C564.2,306.2 575.7,299.7 579.4,297.7 C583.1,295.7 596.0,291.4 595.7,289.5 C595.4,287.6 581.0,282.2 577.0,280.2 C573.0,278.2 561.4,272.9 558.4,270.9 C555.4,268.9 550.0,263.4 549.0,261.5 C548.0,259.6 548.4,255.4 549.0,253.3 C549.6,251.2 553.4,244.2 554.9,241.7 C556.4,239.2 560.1,232.2 563.0,230.0 C565.9,227.8 578.6,222.5 582.5,221.2 C586.4,220.0 596.5,218.5 600.0,218.0 C603.5,217.5 611.8,217.1 615.5,217.0 C619.2,216.9 630.8,217.2 635.0,217.5 C639.2,217.8 651.3,219.3 655.0,220.0 C658.7,220.7 666.3,223.5 670.0,223.8 C673.7,224.0 686.1,223.1 690.0,222.5 C693.9,221.9 703.3,218.9 706.5,218.0 C709.7,217.1 718.6,214.4 720.0,214.0"/>
<path d="M442.9,166.8 C442.9,167.1 442.6,168.2 442.4,168.6 C442.3,168.9 441.5,169.7 441.2,169.9 C440.9,170.1 439.9,170.3 439.5,170.3 C439.1,170.3 438.1,170.1 437.8,169.9 C437.5,169.7 436.7,168.9 436.6,168.6 C436.4,168.2 436.1,167.1 436.1,166.8 C436.1,166.4 436.4,165.3 436.6,164.9 C436.7,164.6 437.5,163.8 437.8,163.6 C438.1,163.4 439.1,163.2 439.5,163.2 C439.9,163.2 440.9,163.4 441.2,163.6 C441.5,163.8 442.3,164.6 442.4,164.9 C442.6,165.3 442.9,166.4 442.9,166.8Z"/>
<path d="M727.0,255.5 C727.0,256.5 725.5,259.4 724.6,260.2 C723.6,261.1 719.7,263.2 718.0,263.7 C716.3,264.2 710.9,265.0 709.0,265.0 C707.1,265.0 701.7,264.2 700.0,263.7 C698.3,263.2 694.4,261.1 693.4,260.2 C692.5,259.4 691.0,256.5 691.0,255.5 C691.0,254.5 692.5,251.6 693.4,250.8 C694.4,249.9 698.3,247.8 700.0,247.3 C701.7,246.8 707.1,246.0 709.0,246.0 C710.9,246.0 716.3,246.8 718.0,247.3 C719.7,247.8 723.6,249.9 724.6,250.8 C725.5,251.6 727.0,254.5 727.0,255.5Z"/>
<path d="M455.0,37.0 C456.2,37.9 463.6,43.6 466.2,45.5 C468.9,47.4 477.3,52.8 480.0,55.0 C482.7,57.2 489.6,63.9 491.2,66.2 C492.9,68.7 494.8,74.0 495.0,77.5 C495.2,81.0 494.0,94.5 493.5,98.8 C493.0,103.0 490.8,113.1 490.0,117.5 C489.2,121.9 487.3,135.8 486.2,140.0 C485.2,144.2 481.4,154.2 480.0,156.7 C478.6,159.2 474.3,161.9 473.3,163.3 C472.3,164.7 471.0,167.9 470.8,170.0 C470.6,172.1 471.5,180.5 471.7,183.3 C471.9,186.1 472.6,193.9 472.5,196.7 C472.4,199.5 471.2,207.2 470.8,210.0 C470.4,212.8 469.5,220.8 469.2,223.3 C468.9,225.8 468.2,231.0 468.3,233.3 C468.4,235.6 469.3,242.0 470.0,245.0 C470.7,248.0 473.1,258.6 475.0,261.2 C476.9,263.9 484.8,268.7 487.5,270.0 C490.2,271.3 497.7,272.4 500.0,273.8 C502.3,275.1 507.3,280.8 508.8,282.5 C510.2,284.2 512.8,289.0 513.8,290.0 C514.7,291.0 516.6,292.4 517.5,292.0 C518.4,291.6 522.4,288.3 522.5,286.2 C522.6,284.2 519.3,275.3 518.8,272.5 C518.2,269.7 516.8,262.4 517.5,260.0 C518.2,257.6 522.6,252.9 525.0,250.0 C527.4,247.1 537.3,235.8 540.0,232.5 C542.7,229.2 546.3,221.3 550.0,218.8 C553.7,216.2 569.7,210.5 575.0,208.8 C580.3,207.0 594.7,203.3 600.0,202.5 C605.3,201.7 619.7,201.2 625.0,201.2 C630.3,201.2 645.2,202.1 650.0,202.5 C654.8,202.9 666.3,205.5 670.0,205.0 C673.7,204.5 682.3,199.1 685.0,197.5 C687.7,195.9 692.7,191.5 695.0,190.0 C697.3,188.5 703.8,185.1 706.5,183.8 C709.2,182.4 718.6,177.7 720.0,177.0"/>
<path d="M720.0,98.0 C718.6,98.1 711.0,98.4 706.8,98.8 C702.5,99.1 684.5,100.7 680.0,101.2 C675.5,101.8 667.2,103.0 665.0,103.8 C662.8,104.5 659.7,107.4 659.5,108.8 C659.3,110.1 661.7,114.2 663.0,116.0 C664.3,117.8 670.0,123.7 671.8,125.5 C673.5,127.3 677.5,131.5 679.0,133.0 C680.5,134.5 683.3,138.5 686.2,140.0 C689.2,141.5 703.1,146.3 706.8,147.5 C710.4,148.7 718.6,150.6 720.0,151.0"/>
<path d="M376.2,325.0 C376.9,323.2 380.0,317.3 382.5,315.0 C385.0,312.7 395.5,305.4 400.0,303.8 C404.5,302.1 420.2,300.3 425.0,300.0 C429.8,299.7 441.8,300.4 445.0,301.2 C448.2,302.1 453.7,305.7 455.0,307.5 C456.3,309.3 457.3,315.6 457.0,318.0 C456.7,320.4 452.9,327.8 452.0,330.0 C451.1,332.2 449.2,336.2 448.3,338.3 C447.4,340.4 445.3,348.7 443.3,350.0 C441.3,351.3 433.2,350.4 430.0,350.8 C426.8,351.2 416.5,353.1 413.3,353.3 C410.1,353.5 402.7,353.2 400.0,352.5 C397.3,351.8 390.4,348.2 388.3,346.7 C386.2,345.2 381.3,339.9 380.0,338.3 C378.7,336.7 376.9,333.4 376.5,332.0 C376.1,330.6 375.6,326.8 376.2,325.0Z"/>
<path d="M416.5,322.5 C416.5,323.3 415.7,325.6 415.2,326.2 C414.7,326.9 412.6,328.6 411.8,329.0 C410.9,329.4 408.0,330.0 407.0,330.0 C406.0,330.0 403.1,329.4 402.2,329.0 C401.4,328.6 399.3,326.9 398.8,326.2 C398.3,325.6 397.5,323.3 397.5,322.5 C397.5,321.7 398.3,319.4 398.8,318.8 C399.3,318.1 401.4,316.4 402.2,316.0 C403.1,315.6 406.0,315.0 407.0,315.0 C408.0,315.0 410.9,315.6 411.8,316.0 C412.6,316.4 414.7,318.1 415.2,318.8 C415.7,319.4 416.5,321.7 416.5,322.5Z"/>
<path d="M527.0,37.0 C527.0,37.9 527.1,41.7 527.0,45.5 C526.9,49.3 527.1,67.6 526.2,72.5 C525.4,77.4 520.1,87.5 518.8,91.2 C517.4,95.0 514.4,104.3 513.5,108.0 C512.6,111.7 510.8,122.8 510.0,126.2 C509.2,129.7 506.5,137.2 506.0,140.0 C505.5,142.8 504.9,150.2 505.0,152.5 C505.1,154.8 506.0,158.9 506.7,161.7 C507.4,164.5 510.7,174.7 511.7,178.3 C512.7,181.9 515.8,192.2 515.8,195.0 C515.8,197.8 512.9,202.7 511.7,205.0 C510.5,207.3 506.0,214.6 505.0,216.7 C504.0,218.8 502.1,223.4 502.0,225.0 C501.9,226.6 503.3,230.5 504.2,231.7 C505.1,232.9 508.7,235.2 510.0,235.8 C511.3,236.4 515.3,237.8 516.7,237.5 C518.1,237.2 522.2,234.6 523.3,233.3 C524.4,232.0 526.3,227.1 526.7,225.0 C527.1,222.9 526.9,215.4 527.5,213.3 C528.1,211.2 530.1,206.6 532.5,205.0 C534.9,203.4 547.1,199.8 550.0,198.8 C552.9,197.7 558.1,195.9 560.0,195.0 C561.9,194.1 565.9,191.1 567.5,190.0 C569.1,188.9 571.5,186.1 575.0,185.0 C578.5,183.9 594.7,180.9 600.0,180.0 C605.3,179.1 620.7,177.1 625.0,176.2 C629.3,175.4 637.7,173.4 640.0,172.5 C642.3,171.6 646.7,168.5 646.2,167.5 C645.8,166.5 637.9,164.0 636.0,163.0 C634.1,162.0 631.4,159.9 628.8,158.0 C626.1,156.1 613.9,146.8 611.2,145.0 C608.6,143.2 605.0,142.2 603.8,141.2 C602.5,140.3 598.6,138.0 599.2,136.2 C599.9,134.5 608.2,127.8 610.0,125.0 C611.8,122.2 614.6,112.5 616.2,110.0 C617.9,107.5 621.4,103.2 625.0,101.2 C628.6,99.2 645.5,93.5 650.0,91.2 C654.5,89.0 663.2,82.3 667.5,80.0 C671.8,77.7 685.8,71.9 690.0,70.0 C694.2,68.1 703.5,63.9 706.8,62.5 C710.0,61.1 718.6,57.6 720.0,57.0"/>
<path d="M545.0,37.0 C545.1,37.9 545.9,43.3 546.2,45.5 C546.6,47.7 548.4,55.8 548.8,57.5 C549.1,59.2 549.3,59.7 550.0,61.2 C550.7,62.8 553.6,70.3 555.0,72.0 C556.4,73.7 561.0,76.1 563.0,77.0 C565.0,77.9 571.4,79.9 573.8,80.5 C576.1,81.1 582.7,82.7 585.0,83.0 C587.3,83.3 590.2,83.8 595.0,83.8 C599.8,83.8 624.9,83.9 630.0,83.0 C635.1,82.1 640.1,77.5 642.5,75.0 C644.9,72.5 650.0,63.1 652.5,60.0 C655.0,56.9 664.1,48.0 666.2,45.5 C668.4,43.0 672.3,37.9 673.0,37.0"/>
<path d="M90.0,249.0 C91.3,248.4 99.3,244.7 102.5,243.2 C105.7,241.8 116.0,237.6 120.0,235.8 C124.0,233.9 136.8,226.6 140.0,226.2 C143.2,225.9 147.8,230.9 150.0,232.5 C152.2,234.1 159.2,238.7 160.8,241.2 C162.3,243.8 164.7,252.5 165.0,256.0 C165.3,259.5 164.3,269.9 163.8,273.8 C163.2,277.6 160.8,288.1 160.0,292.0 C159.2,295.9 157.1,304.9 156.2,310.0 C155.4,315.1 153.0,335.7 152.5,340.0 C152.0,344.3 151.3,346.5 151.8,350.0 C152.2,353.5 154.6,367.2 156.2,372.5 C157.9,377.8 165.2,394.7 167.5,400.0 C169.8,405.3 175.9,418.2 177.5,422.5 C179.1,426.8 182.0,437.1 182.5,440.0 C183.0,442.9 182.6,446.5 182.5,450.0 C182.4,453.5 182.3,466.9 181.2,472.5 C180.2,478.1 171.8,496.0 172.5,502.5 C173.2,509.0 185.3,528.5 187.5,533.0 C189.7,537.5 192.4,543.7 193.0,545.0"/>
<path d="M720.0,313.5 C718.6,313.6 710.2,314.1 706.5,314.2 C702.8,314.4 688.9,314.8 685.0,315.0 C681.1,315.2 672.9,315.6 670.0,316.2 C667.1,316.9 659.9,319.8 657.5,321.2 C655.1,322.7 648.7,327.8 647.5,330.0 C646.3,332.2 645.7,339.7 646.0,342.0 C646.3,344.3 648.3,349.8 650.0,351.2 C651.7,352.7 659.3,355.1 662.0,356.0 C664.7,356.9 672.0,359.2 675.0,360.0 C678.0,360.8 686.6,362.9 690.0,363.8 C693.4,364.6 703.3,366.8 706.5,367.5 C709.7,368.2 718.6,369.7 720.0,370.0"/>
<path d="M364.0,545.0 C364.6,543.7 368.1,535.7 370.0,533.0 C371.9,530.3 379.4,522.6 381.7,520.0 C384.0,517.4 389.4,511.1 391.7,508.3 C394.0,505.5 400.9,496.6 403.3,493.3 C405.7,490.0 412.8,481.1 414.2,477.5 C415.6,473.9 416.0,463.6 416.0,460.0 C416.0,456.4 415.1,446.5 414.2,443.3 C413.3,440.1 409.2,432.5 408.0,430.0 C406.8,427.5 403.4,421.8 402.5,420.0 C401.6,418.2 400.2,415.1 400.0,413.3 C399.8,411.5 400.3,405.8 400.8,403.3 C401.3,400.8 404.0,392.1 405.0,390.0 C406.0,387.9 407.7,384.5 410.0,383.3 C412.3,382.1 422.3,380.4 426.7,379.2 C431.1,378.0 446.4,374.0 451.7,372.5 C457.0,371.0 472.3,365.7 476.7,365.0 C481.1,364.3 489.7,365.4 493.3,365.8 C496.9,366.2 506.1,368.3 510.0,369.2 C513.9,370.1 526.4,373.2 530.0,374.2 C533.6,375.2 541.1,377.3 543.3,378.3 C545.5,379.3 549.9,381.9 550.8,383.3 C551.7,384.7 552.0,389.2 551.7,391.7 C551.4,394.2 549.4,403.7 548.3,406.7 C547.2,409.7 543.3,418.0 541.7,420.0 C540.1,422.0 535.6,424.8 533.3,425.8 C531.0,426.8 522.8,428.3 520.0,429.0 C517.2,429.7 509.9,431.6 506.7,432.5 C503.5,433.4 493.5,436.0 490.0,437.0 C486.5,438.0 474.2,440.4 474.2,441.7 C474.2,443.0 486.2,447.7 490.0,449.2 C493.8,450.7 506.1,454.7 510.0,455.8 C513.9,456.9 523.5,458.5 526.7,459.2 C529.9,459.9 536.9,461.8 540.0,462.2 C543.1,462.6 553.2,462.9 556.0,462.7 C558.8,462.5 563.1,460.7 566.7,460.0 C570.3,459.3 585.0,457.0 590.0,456.0 C595.0,455.0 609.3,451.3 613.3,450.2 C617.3,449.1 624.8,446.9 627.3,445.5 C629.8,444.1 635.2,439.2 636.7,437.3 C638.2,435.4 639.9,430.1 641.0,428.0 C642.1,425.9 645.7,419.7 647.0,417.5 C648.3,415.3 651.6,408.7 653.0,407.0 C654.4,405.3 658.2,402.6 660.0,401.5 C661.8,400.4 666.8,396.9 670.0,396.2 C673.2,395.6 686.1,394.9 690.0,395.0 C693.9,395.1 703.3,397.0 706.5,397.5 C709.7,398.0 718.6,399.7 720.0,400.0"/>
<path d="M426.7,398.5 C429.0,396.7 437.9,390.5 441.7,388.5 C445.5,386.5 458.8,381.4 462.5,380.0 C466.2,378.6 473.4,375.4 476.7,375.0 C480.0,374.6 489.7,375.4 493.3,375.8 C496.9,376.2 507.2,377.9 510.0,378.3 C512.8,378.7 518.4,379.3 520.0,380.0 C521.6,380.7 523.9,383.2 525.0,385.0 C526.1,386.8 529.4,394.6 530.0,396.7 C530.6,398.8 531.2,403.2 530.8,405.0 C530.4,406.8 528.2,411.7 526.7,413.3 C525.2,414.9 519.4,418.8 516.7,420.0 C514.0,421.2 505.1,424.1 501.7,425.0 C498.3,425.9 489.4,427.7 485.0,428.3 C480.6,428.9 464.4,430.5 460.0,430.8 C455.6,431.1 446.1,431.2 443.3,430.8 C440.5,430.4 435.4,428.7 433.3,427.5 C431.2,426.3 424.9,421.3 423.3,419.5 C421.7,417.7 418.6,412.5 418.3,411.0 C418.0,409.5 419.6,406.3 420.5,405.0 C421.4,403.7 424.4,400.3 426.7,398.5Z"/>
<path d="M418.0,545.0 C418.2,543.7 419.4,535.1 420.0,533.0 C420.6,530.9 422.8,527.4 423.3,525.3 C423.8,523.2 424.3,515.9 424.7,513.3 C425.1,510.7 425.5,503.9 426.7,501.3 C427.9,498.7 433.9,491.3 436.0,488.7 C438.1,486.1 444.4,479.0 446.7,476.7 C449.0,474.4 455.5,468.6 458.0,467.0 C460.5,465.4 467.3,462.3 470.0,461.5 C472.7,460.7 479.7,458.6 483.3,459.2 C486.9,459.8 500.1,465.6 503.3,466.7 C506.5,467.8 510.1,468.5 513.3,469.3 C516.5,470.1 529.0,473.2 533.3,474.0 C537.6,474.8 550.2,476.6 553.3,476.7 C556.4,476.8 559.9,475.6 562.7,474.7 C565.5,473.8 576.0,469.3 580.0,468.0 C584.0,466.7 596.4,463.5 600.0,462.5 C603.6,461.5 609.4,459.7 613.3,458.3 C617.2,456.9 633.2,450.6 636.7,449.0 C640.2,447.4 644.3,444.7 646.0,443.2 C647.7,441.7 651.5,437.6 653.0,435.0 C654.5,432.4 658.4,421.3 660.0,418.7 C661.6,416.1 665.6,410.8 668.1,410.5 C670.6,410.2 679.2,414.4 683.3,416.3 C687.4,418.2 702.7,426.0 706.6,428.0 C710.5,430.0 718.6,434.3 720.0,435.0"/>
<path d="M98.5,516.0 C98.9,517.0 101.7,523.2 102.5,525.0 C103.3,526.8 105.5,531.3 106.2,533.0 C107.0,534.7 109.6,540.1 110.0,541.0"/>
<path d="M434.7,410.8 C434.9,409.6 438.2,405.4 440.0,404.2 C441.8,403.0 448.9,400.7 451.7,400.0 C454.5,399.3 463.0,397.7 466.0,397.5 C469.0,397.3 476.9,398.0 480.0,398.5 C483.1,399.0 492.2,401.0 495.0,402.0 C497.8,403.0 506.0,406.1 505.8,407.5 C505.6,408.9 496.4,413.8 493.3,415.0 C490.2,416.2 480.3,417.8 476.7,418.3 C473.1,418.8 463.2,419.9 460.0,420.0 C456.8,420.1 449.0,419.6 446.7,419.2 C444.4,418.8 439.6,416.7 438.3,415.8 C437.0,414.9 434.5,412.0 434.7,410.8Z"/>
<path d="M460.0,545.0 C460.0,543.7 460.1,536.1 460.0,533.0 C459.9,529.9 458.8,519.1 458.7,516.0 C458.6,512.9 458.4,505.8 458.7,504.0 C459.0,502.2 460.3,500.3 461.3,498.7 C462.3,497.1 466.9,491.3 468.0,489.3 C469.1,487.3 471.1,481.8 472.0,480.0 C472.9,478.2 474.1,472.4 476.0,472.0 C477.9,471.6 486.4,474.9 490.0,476.0 C493.6,477.1 505.7,480.8 510.0,482.0 C514.3,483.2 526.8,486.3 530.0,487.0 C533.2,487.7 537.5,488.5 540.0,488.7 C542.5,488.9 550.9,489.0 553.3,488.7 C555.7,488.4 559.9,487.1 562.7,486.0 C565.5,484.9 577.1,479.8 580.0,478.7 C582.9,477.6 586.4,477.1 590.0,475.8 C593.6,474.5 608.3,468.2 613.3,466.5 C618.3,464.8 632.7,460.1 636.7,459.5 C640.7,458.9 648.3,461.2 650.7,460.7 C653.1,460.2 657.7,456.5 658.8,454.8 C659.9,453.1 660.6,446.2 661.2,444.3 C661.8,442.4 663.7,438.3 664.7,437.3 C665.7,436.3 669.0,434.6 670.5,434.5 C672.0,434.4 677.0,435.2 678.6,436.2 C680.2,437.2 684.5,441.9 685.6,444.3 C686.7,446.7 688.1,455.9 689.1,458.3 C690.1,460.7 693.1,465.4 695.0,466.5 C696.9,467.6 703.9,468.5 706.6,468.8 C709.3,469.1 718.6,469.0 720.0,469.0"/>
<path d="M670.0,470.0 C671.1,469.9 676.0,471.3 677.0,472.0 C678.0,472.7 679.5,475.4 679.8,477.0 C680.1,478.6 680.0,484.8 680.0,487.0 C680.0,489.2 680.0,496.1 679.8,498.0 C679.6,499.9 678.6,503.8 678.0,505.0 C677.4,506.2 675.2,509.1 674.0,509.6 C672.8,510.1 668.3,510.3 667.0,509.6 C665.7,508.9 662.4,504.3 661.9,502.6 C661.4,500.9 661.7,495.8 662.0,493.3 C662.3,490.8 664.2,481.5 664.7,479.3 C665.2,477.1 666.4,473.5 667.0,472.5 C667.6,471.5 668.9,470.1 670.0,470.0Z"/>
<path d="M480.0,545.0 C480.3,543.7 481.8,535.0 482.7,533.0 C483.6,531.0 486.6,528.1 488.0,526.7 C489.4,525.3 494.0,521.4 496.0,520.0 C498.0,518.6 504.1,514.7 506.7,513.5 C509.3,512.3 517.2,509.5 520.0,508.5 C522.8,507.5 530.1,505.2 533.3,504.5 C536.5,503.8 546.0,502.8 550.0,502.0 C554.0,501.2 566.4,498.6 570.7,497.3 C575.0,496.0 585.5,491.7 590.0,489.8 C594.5,487.9 608.9,481.3 613.3,479.3 C617.7,477.3 628.1,471.4 630.8,471.2 C633.5,471.0 637.4,474.6 639.0,477.0 C640.6,479.4 644.9,490.1 646.0,493.3 C647.1,496.5 648.6,504.3 649.5,507.3 C650.4,510.3 652.8,518.9 654.2,521.3 C655.6,523.7 660.7,528.4 662.3,529.5 C663.9,530.6 667.4,532.1 669.3,531.8 C671.2,531.5 677.6,529.0 679.8,527.1 C682.0,525.2 688.4,517.2 690.3,514.3 C692.2,511.4 695.6,502.8 697.3,500.3 C699.0,497.8 704.2,493.3 706.6,491.0 C709.0,488.7 718.6,480.3 720.0,479.0"/>
<path d="M510.0,545.0 C511.5,543.7 520.8,535.1 524.0,533.0 C527.2,530.9 537.4,526.5 540.0,525.3 C542.6,524.1 545.2,522.9 548.0,522.0 C550.8,521.1 562.0,518.1 566.0,517.0 C570.0,515.9 581.0,512.7 585.3,511.3 C589.6,509.9 603.7,505.4 606.7,504.0 C609.7,502.6 611.2,499.0 613.3,498.0 C615.4,497.0 624.2,494.8 626.2,494.5 C628.2,494.2 631.0,495.0 632.0,495.6 C633.0,496.2 635.3,499.1 635.5,500.3 C635.7,501.5 635.2,505.8 634.3,507.3 C633.4,508.8 629.2,513.2 627.3,514.3 C625.4,515.4 618.4,516.8 616.8,517.8 C615.2,518.8 612.9,522.0 612.2,523.6 C611.5,525.2 610.2,530.7 609.8,533.0 C609.4,535.3 608.2,543.7 608.0,545.0"/>
</g>
<g fill="none" stroke="#000" stroke-width="2" stroke-linejoin="round" stroke-linecap="round">
<path d="M525.0,45.5 L517.5,67.5 L508.8,85.0 L500.0,102.5 L491.2,120.0 L487.5,140.0 L484.2,150.0 L480.0,156.7 L476.7,163.3 L477.5,173.3 L478.3,183.3 L477.5,193.3 L478.3,213.3 L475.8,221.7 L470.0,231.7 L463.3,241.7 L450.0,257.5 L430.0,280.0 L410.0,300.0 L387.5,322.5 L384.0,330.3 L360.0,338.3 L331.7,348.3 L324.2,350.8 L326.0,352.6 L328.6,353.0 L329.0,355.6 L331.5,356.6 L331.0,359.6 L333.6,360.6 L335.6,358.8 L337.0,361.0 L338.2,358.4 L340.0,357.4 L339.6,354.0 L342.0,352.0 L345.0,351.2 L351.7,351.7"/>
<path d="M351.7,351.7 L354.4,352.2 L357.1,352.6 L359.6,353.9 L362.5,353.8 L365.0,355.0 L367.6,356.5 L370.3,357.9 L372.5,360.0 L375.3,361.2 L376.7,363.7 L378.8,365.5 L380.4,367.6 L381.8,369.9 L383.6,372.8 L386.4,374.7 L388.5,377.3 L390.4,380.1 L392.4,382.9 L394.9,385.1 L397.8,386.3 L400.3,388.3 L403.5,388.7 L405.2,391.7 L407.9,393.4 L410.3,395.5 L412.0,398.0 L413.5,400.7 L414.7,403.5 L417.0,405.9 L418.2,409.0 L419.9,411.8 L421.8,413.7 L423.3,415.9 L425.4,417.6 L427.1,419.7 L429.2,422.0 L430.9,424.6 L433.4,426.6 L435.2,428.7 L436.6,431.1 L437.3,433.9 L438.1,436.7 L438.1,439.7 L438.8,442.5 L439.7,445.6 L439.7,448.8 L440.2,452.0 L439.7,455.3 L439.9,458.7 L440.5,462.0"/>
<path d="M452.0,436.7 L447.9,438.4 L445.2,442.9 L443.8,444.9 L442.2,447.0 L443.4,449.8 L443.3,452.6 L444.3,455.2 L444.0,458.3 L444.4,461.3 L446.5,464.2 L447.8,467.3 L451.9,468.6 L454.8,472.2 L455.6,475.0 L456.4,478.0 L459.1,482.0 L461.7,483.4 L464.5,484.4 L467.0,485.9 L469.1,488.2 L472.5,490.9 L474.5,495.5 L474.1,498.6 L473.3,501.9 L471.7,503.7 L475.5,505.1 L478.8,506.6 L480.5,509.2 L483.2,510.9 L482.1,514.0 L481.7,516.8 L479.0,519.1 L482.2,519.4 L485.2,521.6 L488.1,521.5 L490.8,522.4 L494.6,521.2 L497.4,521.8 L500.0,520.7 L502.7,521.2 L506.0,520.1 L509.5,519.2 L512.8,517.8 L516.2,516.5 L518.5,514.2 L521.3,512.8 L523.9,511.1 L526.5,510.4 L528.8,509.2 L530.4,506.9 L532.4,505.0 L534.4,503.0 L537.3,502.3 L540.0,502.0"/>
<path d="M433.3,533.0 L433.1,530.1 L432.4,527.3 L431.3,524.8 L431.2,522.0 L432.9,519.5 L434.8,517.4 L437.6,516.6 L440.1,514.9 L441.8,512.7 L443.7,510.8 L445.5,508.9 L447.6,506.2 L451.0,505.1 L453.3,505.4 L455.9,505.8 L459.9,507.1 L462.7,506.9 L465.3,507.2 L468.3,508.9 L465.3,509.8 L462.9,511.3 L461.9,514.2 L465.5,515.6 L467.1,518.1 L468.2,520.6 L467.3,524.9 L470.9,525.3 L473.5,526.5 L476.2,527.5 L479.4,528.8 L482.9,529.4 L484.0,530.5 L486.7,529.5 L489.2,528.2 L492.0,528.8 L494.7,529.4 L497.3,529.8 L500.2,530.8 L503.5,530.5 L506.9,529.3 L510.0,527.3 L513.3,526.0 L515.8,524.6 L518.5,523.7 L521.2,523.1 L523.0,520.5 L525.4,519.0 L526.3,516.4 L528.9,513.5 L532.5,511.7 L536.0,508.7 L540.2,509.5"/>
<path d="M532.0,510.0 L536.0,510.7 L540.1,510.8 L543.3,511.2 L546.7,511.6 L550.0,511.4 L553.3,511.1 L556.6,510.4 L560.0,510.2 L563.3,509.7 L566.7,510.1 L570.0,509.5 L573.4,509.4 L576.7,508.6 L580.0,508.1 L583.4,508.3 L586.7,508.1 L590.0,507.6 L593.3,507.2 L596.9,506.5 L600.5,505.7 L603.9,504.4 L607.5,507.8 L611.1,509.1 L614.3,507.2 L617.1,503.5 L619.3,501.5"/>
<path d="M540.0,502.0 L542.7,503.8 L544.9,506.2 L548.3,507.7 L552.0,508.6 L555.5,508.9 L559.0,508.8 L562.5,508.6 L566.0,507.9 L569.5,507.4 L573.0,507.0 L576.5,506.6 L580.0,506.3 L583.3,506.4 L586.5,506.3 L589.8,505.9 L593.0,505.2 L596.7,504.8 L600.4,504.4 L603.9,503.2"/>
<path d="M445.0,441.5 L448.0,437.5 L451.0,436.0 L453.0,437.5"/>
<path d="M446.5,443.0 L450.0,440.0 L452.5,440.5"/>
<path d="M447.5,436.5 L449.0,439.5"/>
<path d="M443.7,450.0 L446.6,449.2"/>
<path d="M444.0,454.0 L447.0,453.4"/>
<path d="M444.5,458.0 L447.2,457.4"/>
<path d="M443.5,446.5 L446.0,445.5"/>
<path d="M451.0,459.0 L454.0,456.5 L458.0,457.5 L461.0,455.5 L465.0,456.0 L468.0,454.0 L472.0,455.0 L476.0,453.5"/>
<path d="M450.5,462.0 L454.0,460.0 L458.0,461.5 L462.0,459.5 L466.0,460.5 L470.0,458.0 L474.0,459.5 L477.0,458.0"/>
<path d="M452.0,465.0 L456.0,463.5 L460.0,465.0 L464.0,463.0 L468.0,464.5 L472.0,462.5 L476.0,463.5"/>
<path d="M452.0,468.5 L456.0,467.0 L460.0,468.5 L464.0,466.5 L468.0,468.0 L472.0,466.0 L475.0,467.0"/>
<path d="M454.0,471.5 L458.0,470.5 L461.0,472.0 L464.0,470.5 L467.0,471.5"/>
<path d="M456.0,456.0 L455.0,462.0 L457.0,468.0 L456.0,474.0"/>
<path d="M462.0,455.0 L461.0,461.0 L463.0,467.0 L462.0,473.0"/>
<path d="M468.0,455.0 L467.0,460.0 L469.0,466.0"/>
<path d="M473.0,454.5 L472.0,460.0 L474.0,465.0"/>
<path d="M454.5,475.0 L456.0,477.5 L455.0,480.0 L457.5,482.0 L456.5,485.0"/>
<path d="M459.0,474.0 L461.0,477.0 L460.0,480.0"/>
</g>
<path d="M477.5,190 L481,188.5 L484,189 L486.5,187.5 L487.5,190 L485,192.5 L484,195.5 L486.5,197 L486,200.5 L483.5,202 L484.5,206 L482.5,210.5 L479.5,212 L478,208 Z" fill="#000"/>
<circle cx="463" cy="509.5" r="1.6" fill="#000"/><circle cx="466" cy="511.5" r="1.5" fill="#000"/><circle cx="465.3" cy="524.7" r="1.3" fill="#000"/><circle cx="478.7" cy="518" r="1.3" fill="#000"/><circle cx="473.3" cy="502.7" r="1.3" fill="#000"/><circle cx="508" cy="518.7" r="1.2" fill="#000"/><circle cx="522.7" cy="524.7" r="1.2" fill="#000"/><circle cx="520" cy="512" r="1.2" fill="#000"/><circle cx="525.3" cy="510" r="1.2" fill="#000"/><circle cx="534" cy="503.3" r="1.2" fill="#000"/><circle cx="457.5" cy="489" r="1.0" fill="#000"/><circle cx="454" cy="486" r="1.0" fill="#000"/><circle cx="460.5" cy="486.5" r="1.0" fill="#000"/><circle cx="486" cy="521.5" r="1.3" fill="#000"/><circle cx="500" cy="531" r="1.2" fill="#000"/>
<circle cx="332.5" cy="361" r="1" fill="#000"/><circle cx="343.3" cy="361" r="1.1" fill="#000"/><circle cx="630.5" cy="289.3" r="0.8" fill="#000"/>
<g stroke="#000" stroke-width="0.45" stroke-linejoin="round">
<g transform="translate(340,63) rotate(20)"><text x="-14.25" y="7.60" font-size="21.2" font-weight="bold" fill="#000" textLength="28.30" lengthAdjust="spacingAndGlyphs" xml:space="preserve">21</text></g>
<g transform="translate(416,101) rotate(-63)"><text x="-25.37" y="7.60" font-size="21.2" font-weight="bold" fill="#000" textLength="50.60" lengthAdjust="spacingAndGlyphs" xml:space="preserve">20.5</text></g>
<g transform="translate(493,98.75) rotate(-85)"><text x="-14.26" y="7.60" font-size="21.2" font-weight="bold" fill="#000" textLength="28.62" lengthAdjust="spacingAndGlyphs" xml:space="preserve">20</text></g>
<g transform="translate(510,126) rotate(-75)"><text x="-26.16" y="7.60" font-size="21.2" font-weight="bold" fill="#000" textLength="51.41" lengthAdjust="spacingAndGlyphs" xml:space="preserve">19.5</text></g>
<g transform="translate(573.75,79.5) rotate(20)"><text x="-15.07" y="7.60" font-size="21.2" font-weight="bold" fill="#000" textLength="29.45" lengthAdjust="spacingAndGlyphs" xml:space="preserve">19</text></g>
<g transform="translate(671.75,125.5) rotate(50)"><text x="-14.26" y="7.60" font-size="21.2" font-weight="bold" fill="#000" textLength="28.62" lengthAdjust="spacingAndGlyphs" xml:space="preserve">20</text></g>
<g transform="translate(628.75,160) rotate(60)"><text x="-26.16" y="7.60" font-size="21.2" font-weight="bold" fill="#000" textLength="51.41" lengthAdjust="spacingAndGlyphs" xml:space="preserve">19.5</text></g>
<g transform="translate(615.5,218) rotate(0)"><text x="-25.37" y="7.60" font-size="21.2" font-weight="bold" fill="#000" textLength="50.60" lengthAdjust="spacingAndGlyphs" xml:space="preserve">20.5</text></g>
<g transform="translate(540,232.5) rotate(-50)"><text x="-14.26" y="7.60" font-size="21.2" font-weight="bold" fill="#000" textLength="28.62" lengthAdjust="spacingAndGlyphs" xml:space="preserve">20</text></g>
<g transform="translate(163.75,273.75) rotate(-88)"><text x="-25.37" y="7.60" font-size="21.2" font-weight="bold" fill="#000" textLength="50.60" lengthAdjust="spacingAndGlyphs" xml:space="preserve">21.5</text></g>
<g transform="translate(250,311) rotate(-70)"><text x="-14.25" y="7.60" font-size="21.2" font-weight="bold" fill="#000" textLength="28.30" lengthAdjust="spacingAndGlyphs" xml:space="preserve">21</text></g>
<g transform="translate(456.25,321.25) rotate(-85)"><text x="-14.26" y="7.60" font-size="21.2" font-weight="bold" fill="#000" textLength="28.62" lengthAdjust="spacingAndGlyphs" xml:space="preserve">20</text></g>
<g transform="translate(307,363) rotate(-85)"><text x="-25.37" y="7.60" font-size="21.2" font-weight="bold" fill="#000" textLength="50.60" lengthAdjust="spacingAndGlyphs" xml:space="preserve">20.5</text></g>
<g transform="translate(511.7,344.2) rotate(20)"><text x="-25.37" y="7.60" font-size="21.2" font-weight="bold" fill="#000" textLength="50.60" lengthAdjust="spacingAndGlyphs" xml:space="preserve">20.5</text></g>
<g transform="translate(538.3,365.8) rotate(20)"><text x="-14.25" y="7.60" font-size="21.2" font-weight="bold" fill="#000" textLength="28.30" lengthAdjust="spacingAndGlyphs" xml:space="preserve">21</text></g>
<g transform="translate(441.7,387.5) rotate(-25)"><text x="-14.26" y="7.60" font-size="21.2" font-weight="bold" fill="#000" textLength="28.62" lengthAdjust="spacingAndGlyphs" xml:space="preserve">22</text></g>
<g transform="translate(479.2,400.8) rotate(20)"><text x="-25.37" y="7.60" font-size="21.2" font-weight="bold" fill="#000" textLength="50.60" lengthAdjust="spacingAndGlyphs" xml:space="preserve">22.5</text></g>
<g transform="translate(650,351.25) rotate(40)"><text x="-25.37" y="7.60" font-size="21.2" font-weight="bold" fill="#000" textLength="50.60" lengthAdjust="spacingAndGlyphs" xml:space="preserve">21.5</text></g>
<g transform="translate(641.25,398.75) rotate(-55)"><text x="-14.25" y="7.60" font-size="21.2" font-weight="bold" fill="#000" textLength="28.30" lengthAdjust="spacingAndGlyphs" xml:space="preserve">21</text></g>
<g transform="translate(414.2,443.3) rotate(80)"><text x="-25.37" y="7.60" font-size="21.2" font-weight="bold" fill="#000" textLength="50.60" lengthAdjust="spacingAndGlyphs" xml:space="preserve">21.5</text></g>
<g transform="translate(506.7,432.5) rotate(-25)"><text x="-25.37" y="7.60" font-size="21.2" font-weight="bold" fill="#000" textLength="50.60" lengthAdjust="spacingAndGlyphs" xml:space="preserve">21.5</text></g>
<g transform="translate(466.7,461.7) rotate(-20)"><text x="-14.26" y="7.60" font-size="21.2" font-weight="bold" fill="#000" textLength="28.62" lengthAdjust="spacingAndGlyphs" xml:space="preserve">22</text></g>
<g transform="translate(505.8,482.5) rotate(15)"><text x="-25.37" y="7.60" font-size="21.2" font-weight="bold" fill="#000" textLength="50.60" lengthAdjust="spacingAndGlyphs" xml:space="preserve">22.5</text></g>
<g transform="translate(347.5,504.2) rotate(-40)"><text x="-14.25" y="7.60" font-size="21.2" font-weight="bold" fill="#000" textLength="28.30" lengthAdjust="spacingAndGlyphs" xml:space="preserve">21</text></g>
<g transform="translate(550,502) rotate(-10)"><text x="-14.26" y="7.60" font-size="21.2" font-weight="bold" fill="#000" textLength="28.62" lengthAdjust="spacingAndGlyphs" xml:space="preserve">23</text></g>
<g transform="translate(585.3,511.3) rotate(-20)"><text x="-25.37" y="7.60" font-size="21.2" font-weight="bold" fill="#000" textLength="50.60" lengthAdjust="spacingAndGlyphs" xml:space="preserve">23.5</text></g>
</g>
<polygon points="385.8,280.3 388.5,288.7 397.4,288.7 390.2,294.0 392.9,302.4 385.8,297.2 378.6,302.4 381.3,294.0 374.1,288.7 383.0,288.7" fill="#fff" stroke="#000" stroke-width="1.6" stroke-linejoin="miter"/>
<g stroke="#000" stroke-width="0.4">
<text x="199.75" y="313.60" font-size="20.5" font-weight="bold" fill="#000" textLength="52.04" lengthAdjust="spacingAndGlyphs" xml:space="preserve">CSA</text>
<text x="255.63" y="313.60" font-size="20.5" font-weight="bold" fill="#000" textLength="105.14" lengthAdjust="spacingAndGlyphs" xml:space="preserve">(ONHYM)</text>
<text x="367.60" y="313.60" font-size="20.5" font-weight="bold" fill="#000" textLength="49.16" lengthAdjust="spacingAndGlyphs" xml:space="preserve">PPL</text>
<text x="419.36" y="313.60" font-size="20.5" font-weight="bold" fill="#000" textLength="44.15" lengthAdjust="spacingAndGlyphs" xml:space="preserve">EBS</text>
<text x="479.92" y="313.60" font-size="20.5" font-weight="bold" fill="#000" textLength="10.59" lengthAdjust="spacingAndGlyphs" xml:space="preserve">–</text>
<text x="497.35" y="313.60" font-size="20.5" font-weight="bold" fill="#000" textLength="94.34" lengthAdjust="spacingAndGlyphs" xml:space="preserve">Senegal</text>
</g>
</g>
<g stroke="#262626" stroke-width="1" fill="none"><rect x="102.5" y="45.5" width="604.0" height="488.0"/>
<path d="M178.0,533.5 v-6 M178.0,45.5 v6"/>
<path d="M253.5,533.5 v-6 M253.5,45.5 v6"/>
<path d="M329.0,533.5 v-6 M329.0,45.5 v6"/>
<path d="M404.5,533.5 v-6 M404.5,45.5 v6"/>
<path d="M480.0,533.5 v-6 M480.0,45.5 v6"/>
<path d="M555.5,533.5 v-6 M555.5,45.5 v6"/>
<path d="M631.0,533.5 v-6 M631.0,45.5 v6"/>
<path d="M102.5,503.0 h6 M706.5,503.0 h-6"/>
<path d="M102.5,442.0 h6 M706.5,442.0 h-6"/>
<path d="M102.5,381.0 h6 M706.5,381.0 h-6"/>
<path d="M102.5,320.0 h6 M706.5,320.0 h-6"/>
<path d="M102.5,259.0 h6 M706.5,259.0 h-6"/>
<path d="M102.5,198.0 h6 M706.5,198.0 h-6"/>
<path d="M102.5,137.0 h6 M706.5,137.0 h-6"/>
<path d="M102.5,76.0 h6 M706.5,76.0 h-6"/>
</g>
<text x="84.05" y="563.20" font-size="21.5" font-weight="normal" fill="#262626" textLength="34.58" lengthAdjust="spacingAndGlyphs" xml:space="preserve">-19</text>
<text x="149.43" y="563.20" font-size="21.5" font-weight="normal" fill="#262626" textLength="54.61" lengthAdjust="spacingAndGlyphs" xml:space="preserve">-18.5</text>
<text x="235.06" y="563.20" font-size="21.5" font-weight="normal" fill="#262626" textLength="34.43" lengthAdjust="spacingAndGlyphs" xml:space="preserve">-18</text>
<text x="300.43" y="563.20" font-size="21.5" font-weight="normal" fill="#262626" textLength="54.61" lengthAdjust="spacingAndGlyphs" xml:space="preserve">-17.5</text>
<text x="385.94" y="563.20" font-size="21.5" font-weight="normal" fill="#262626" textLength="34.81" lengthAdjust="spacingAndGlyphs" xml:space="preserve">-17</text>
<text x="451.43" y="563.20" font-size="21.5" font-weight="normal" fill="#262626" textLength="54.61" lengthAdjust="spacingAndGlyphs" xml:space="preserve">-16.5</text>
<text x="536.94" y="563.20" font-size="21.5" font-weight="normal" fill="#262626" textLength="34.66" lengthAdjust="spacingAndGlyphs" xml:space="preserve">-16</text>
<text x="602.43" y="563.20" font-size="21.5" font-weight="normal" fill="#262626" textLength="54.61" lengthAdjust="spacingAndGlyphs" xml:space="preserve">-15.5</text>
<text x="688.11" y="563.20" font-size="21.5" font-weight="normal" fill="#262626" textLength="34.32" lengthAdjust="spacingAndGlyphs" xml:space="preserve">-15</text>
<text x="46.26" y="509.70" font-size="21.5" font-weight="normal" fill="#262626" textLength="46.41" lengthAdjust="spacingAndGlyphs" xml:space="preserve">13.5</text>
<text x="65.98" y="448.70" font-size="21.5" font-weight="normal" fill="#262626" textLength="26.35" lengthAdjust="spacingAndGlyphs" xml:space="preserve">14</text>
<text x="46.26" y="387.70" font-size="21.5" font-weight="normal" fill="#262626" textLength="46.41" lengthAdjust="spacingAndGlyphs" xml:space="preserve">14.5</text>
<text x="66.65" y="326.70" font-size="21.5" font-weight="normal" fill="#262626" textLength="25.94" lengthAdjust="spacingAndGlyphs" xml:space="preserve">15</text>
<text x="46.26" y="265.70" font-size="21.5" font-weight="normal" fill="#262626" textLength="46.41" lengthAdjust="spacingAndGlyphs" xml:space="preserve">15.5</text>
<text x="66.31" y="204.70" font-size="21.5" font-weight="normal" fill="#262626" textLength="26.30" lengthAdjust="spacingAndGlyphs" xml:space="preserve">16</text>
<text x="46.26" y="143.70" font-size="21.5" font-weight="normal" fill="#262626" textLength="46.41" lengthAdjust="spacingAndGlyphs" xml:space="preserve">16.5</text>
<text x="66.30" y="82.70" font-size="21.5" font-weight="normal" fill="#262626" textLength="26.45" lengthAdjust="spacingAndGlyphs" xml:space="preserve">17</text>
<text x="331.48" y="593.00" font-size="22.6" font-weight="normal" fill="#262626" textLength="143.55" lengthAdjust="spacingAndGlyphs" xml:space="preserve">Longitude, E</text>
<g transform="translate(33.5,350.8) rotate(-90)"><text x="-2.11" y="0.00" font-size="23.2" font-weight="normal" fill="#262626" textLength="126.00" lengthAdjust="spacingAndGlyphs" xml:space="preserve">Latitude, N</text></g>
<text x="257.45" y="38.10" font-size="14.9" font-weight="bold" fill="#000" textLength="293.09" lengthAdjust="spacingAndGlyphs" xml:space="preserve">Valid for 21-Jan-2026 00:00:00 GMT</text>
<rect x="750.5" y="492.83" width="33.0" height="40.97" fill="#0000aa"/>
<rect x="750.5" y="452.17" width="33.0" height="40.97" fill="#0000ff"/>
<rect x="750.5" y="411.50" width="33.0" height="40.97" fill="#0055ff"/>
<rect x="750.5" y="370.83" width="33.0" height="40.97" fill="#00aaff"/>
<rect x="750.5" y="330.17" width="33.0" height="40.97" fill="#00ffff"/>
<rect x="750.5" y="289.50" width="33.0" height="40.97" fill="#55ffaa"/>
<rect x="750.5" y="248.83" width="33.0" height="40.97" fill="#aaff55"/>
<rect x="750.5" y="208.17" width="33.0" height="40.97" fill="#ffff00"/>
<rect x="750.5" y="167.50" width="33.0" height="40.97" fill="#ffaa00"/>
<rect x="750.5" y="126.83" width="33.0" height="40.97" fill="#ff5500"/>
<rect x="750.5" y="86.17" width="33.0" height="40.97" fill="#ff0000"/>
<rect x="750.5" y="45.50" width="33.0" height="40.97" fill="#aa0000"/>
<g stroke="#262626" stroke-width="1" fill="none"><rect x="750.5" y="45.5" width="33.0" height="488.0"/>
<path d="M783.5,489.1 h-4"/>
<path d="M783.5,444.8 h-4"/>
<path d="M783.5,400.4 h-4"/>
<path d="M783.5,356.0 h-4"/>
<path d="M783.5,311.7 h-4"/>
<path d="M783.5,267.3 h-4"/>
<path d="M783.5,223.0 h-4"/>
<path d="M783.5,178.6 h-4"/>
<path d="M783.5,134.2 h-4"/>
<path d="M783.5,89.9 h-4"/>
</g>
<text x="789.94" y="539.80" font-size="19.55" font-weight="normal" fill="#262626" textLength="42.14" lengthAdjust="spacingAndGlyphs" xml:space="preserve">18.5</text>
<text x="789.96" y="495.44" font-size="19.55" font-weight="normal" fill="#262626" textLength="23.77" lengthAdjust="spacingAndGlyphs" xml:space="preserve">19</text>
<text x="789.94" y="451.07" font-size="19.55" font-weight="normal" fill="#262626" textLength="42.14" lengthAdjust="spacingAndGlyphs" xml:space="preserve">19.5</text>
<text x="790.50" y="406.71" font-size="19.55" font-weight="normal" fill="#262626" textLength="23.96" lengthAdjust="spacingAndGlyphs" xml:space="preserve">20</text>
<text x="790.49" y="362.35" font-size="19.55" font-weight="normal" fill="#262626" textLength="42.37" lengthAdjust="spacingAndGlyphs" xml:space="preserve">20.5</text>
<text x="790.51" y="317.98" font-size="19.55" font-weight="normal" fill="#262626" textLength="23.75" lengthAdjust="spacingAndGlyphs" xml:space="preserve">21</text>
<text x="790.49" y="273.62" font-size="19.55" font-weight="normal" fill="#262626" textLength="42.37" lengthAdjust="spacingAndGlyphs" xml:space="preserve">21.5</text>
<text x="790.50" y="229.25" font-size="19.55" font-weight="normal" fill="#262626" textLength="23.96" lengthAdjust="spacingAndGlyphs" xml:space="preserve">22</text>
<text x="790.49" y="184.89" font-size="19.55" font-weight="normal" fill="#262626" textLength="42.37" lengthAdjust="spacingAndGlyphs" xml:space="preserve">22.5</text>
<text x="790.50" y="140.53" font-size="19.55" font-weight="normal" fill="#262626" textLength="23.92" lengthAdjust="spacingAndGlyphs" xml:space="preserve">23</text>
<text x="790.49" y="96.16" font-size="19.55" font-weight="normal" fill="#262626" textLength="42.37" lengthAdjust="spacingAndGlyphs" xml:space="preserve">23.5</text>
<text x="790.48" y="51.80" font-size="19.55" font-weight="normal" fill="#262626" textLength="24.25" lengthAdjust="spacingAndGlyphs" xml:space="preserve">24</text>
<g transform="translate(860,378.2) rotate(-90)"><text x="-0.15" y="0.00" font-size="18.4" font-weight="normal" fill="#262626" textLength="178.94" lengthAdjust="spacingAndGlyphs" xml:space="preserve">Air Temperature, C</text></g>
</svg></body></html>
